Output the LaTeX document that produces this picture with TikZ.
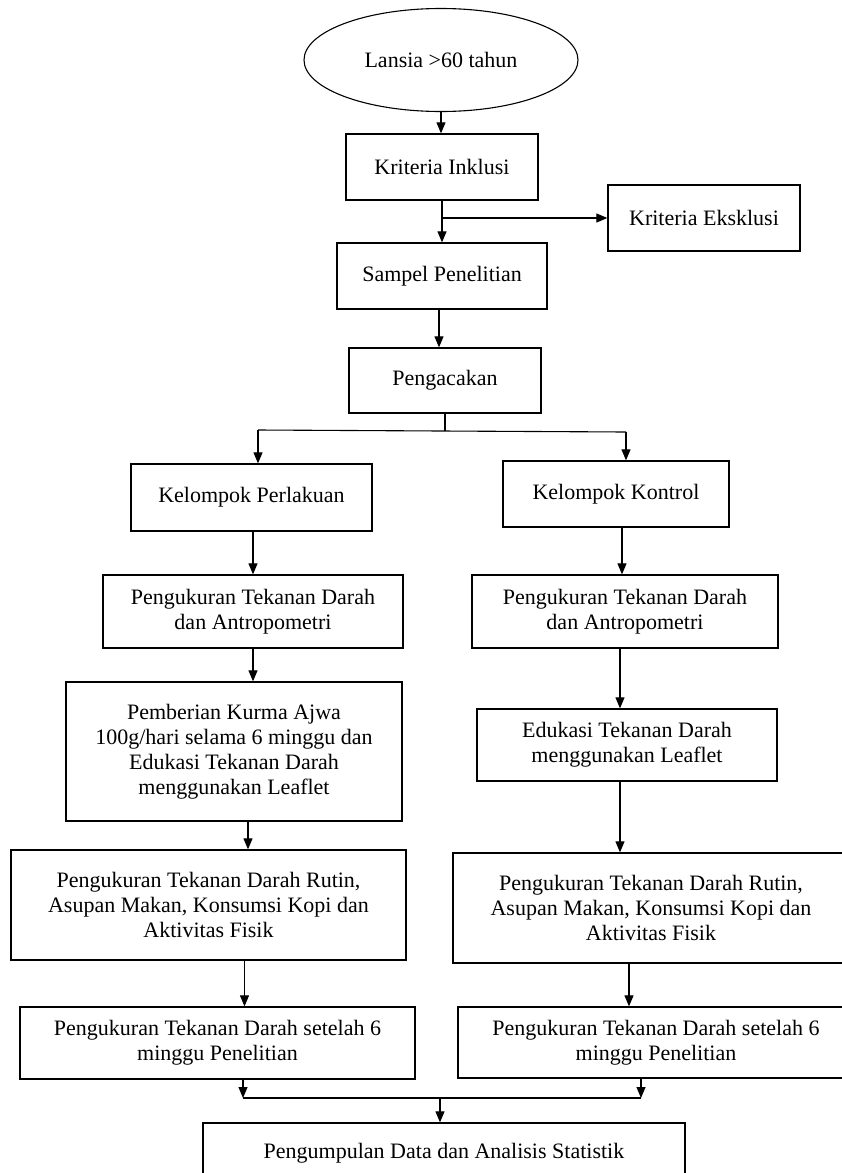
\documentclass[tikz,border=0pt]{standalone}
\usepackage{fontspec}
\setmainfont{Liberation Serif}
\usepackage{tikz}
\usetikzlibrary{arrows.meta,shapes.geometric}

\begin{document}
\begin{tikzpicture}[x=1pt,y=-1pt,>={Triangle[length=11pt,width=9pt]},
  font=\fontsize{22}{25}\selectfont,
  flow node/.style={rectangle,draw,line width=1.3pt,align=center,inner sep=0pt},
  start node/.style={ellipse,draw,line width=1.1pt,align=center,inner sep=0pt},
  link/.style={line width=1.1pt}]
  \useasboundingbox (0,0) rectangle (842,1173);
  \clip (0,0) rectangle (842,1173);

  \node[start node,minimum width=274,minimum height=103] (start) at (441,60) {Lansia >60 tahun};
  \node[flow node,minimum width=192,minimum height=66] (inkl) at (442,167) {Kriteria Inklusi};
  \node[flow node,minimum width=192,minimum height=66] (eksk) at (704,218) {Kriteria Eksklusi};
  \node[flow node,minimum width=210,minimum height=66] (sampel) at (442,276) {Sampel Penelitian};
  \node[flow node,minimum width=192,minimum height=65] (acak) at (445,380.5) {Pengacakan};

  \node[flow node,minimum width=241,minimum height=67] (perlakuan) at (251.5,497.5) {Kelompok Perlakuan};
  \node[flow node,minimum width=226,minimum height=66] (kontrol) at (616,494) {Kelompok Kontrol};

  \node[flow node,minimum width=300,minimum height=73] (ukurA) at (253,611.5) {Pengukuran Tekanan Darah\\dan Antropometri};
  \node[flow node,minimum width=306,minimum height=73] (ukurB) at (625,611.5) {Pengukuran Tekanan Darah\\dan Antropometri};

  \node[flow node,minimum width=336,minimum height=139] (kurma) at (234,751.5) {Pemberian Kurma Ajwa\\100g/hari selama 6 minggu dan\\Edukasi Tekanan Darah\\menggunakan Leaflet};
  \node[flow node,minimum width=300,minimum height=72] (edukasi) at (627,745) {Edukasi Tekanan Darah\\menggunakan Leaflet};

  \node[flow node,minimum width=395,minimum height=110] (rutinA) at (208.5,905) {Pengukuran Tekanan Darah Rutin,\\Asupan Makan, Konsumsi Kopi dan\\Aktivitas Fisik};
  \node[flow node,minimum width=396,minimum height=110] (rutinB) at (651,908) {Pengukuran Tekanan Darah Rutin,\\Asupan Makan, Konsumsi Kopi dan\\Aktivitas Fisik};

  \node[flow node,minimum width=395,minimum height=72] (akhirA) at (217.5,1043) {Pengukuran Tekanan Darah setelah 6\\minggu Penelitian};
  \node[flow node,minimum width=396,minimum height=71] (akhirB) at (656,1042.5) {Pengukuran Tekanan Darah setelah 6\\minggu Penelitian};

  \node[flow node,minimum width=482,minimum height=60] (kumpul) at (444,1153) {Pengumpulan Data dan Analisis Statistik};

  % split and merge points
  \coordinate (bagi) at (445,431);
  \coordinate (bagiL) at (258,430);
  \coordinate (bagiR) at (626,432);
  \coordinate (gabung) at (440,1098);
  \coordinate (gabungL) at (243,1098);
  \coordinate (gabungR) at (641,1098);

  \draw[link,->] (start.south) -- (start.south |- inkl.north);
  \draw[link,->] (inkl.south) -- (inkl.south |- sampel.north);
  \draw[link,->] (inkl.south |- eksk.west) -- (eksk.west);
  \draw[link,->] ([xshift=-3pt]sampel.south) -- ([xshift=-3pt]sampel.south |- acak.north);

  \draw[link] (acak.south) -- (bagi);
  \draw[link] (bagiL) -- (bagiR);
  \draw[link,->] (bagiL) -- (bagiL |- perlakuan.north);
  \draw[link,->] (bagiR) -- (bagiR |- kontrol.north);

  \draw[link,->] (ukurA.north |- perlakuan.south) -- (ukurA.north);
  \draw[link,->] ([xshift=6pt]kontrol.south) -- ([xshift=6pt]kontrol.south |- ukurB.north);
  \draw[link,->] (ukurA.south) -- (ukurA.south |- kurma.north);
  \draw[link,->] ([xshift=-7pt]edukasi.north |- ukurB.south) -- ([xshift=-7pt]edukasi.north);
  \draw[link,->] ([xshift=14pt]kurma.south) -- ([xshift=14pt]kurma.south |- rutinA.north);
  \draw[link,->] ([xshift=-7pt]edukasi.south) -- ([xshift=-7pt]edukasi.south |- rutinB.north);
  \draw[link,->] ([xshift=36pt]rutinA.south) -- ([xshift=36pt]rutinA.south |- akhirA.north);
  \draw[link,->] ([xshift=-22pt]rutinB.south) -- ([xshift=-22pt]rutinB.south |- akhirB.north);

  \draw[link,->] (gabungL |- akhirA.south) -- (gabungL);
  \draw[link,->] (gabungR |- akhirB.south) -- (gabungR);
  \draw[link] (gabungL) -- (gabungR);
  \draw[link,->] (gabung) -- (gabung |- kumpul.north);
\end{tikzpicture}
\end{document}
